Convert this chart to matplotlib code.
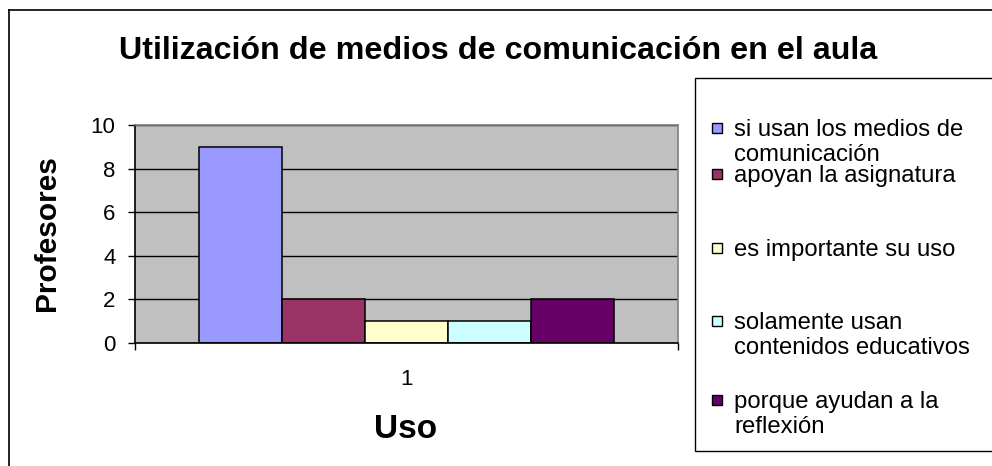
import matplotlib.pyplot as plt
from matplotlib.patches import Rectangle
from matplotlib.lines import Line2D

plt.rcParams['font.family'] = ['Liberation Sans', 'DejaVu Sans']

# datos
categorias = ['1']
series = ['si usan los medios de\ncomunicación',
          'apoyan la asignatura',
          'es importante su uso',
          'solamente usan\ncontenidos educativos',
          'porque ayudan a la\nreflexión']
valores = [9, 2, 1, 1, 2]
colores = ['#9999FF', '#993366', '#FFFFCC', '#CCFFFF', '#660066']

W, H = 992, 466
fig = plt.figure(figsize=(W / 100, H / 100), dpi=100)

def px(x, y):
    # pixel (desde arriba-izquierda) -> coords de figura
    return x / W, 1 - y / H

# borde exterior
fig.add_artist(Line2D([9 / W, 1.01], [1 - 10 / H, 1 - 10 / H], color='black', lw=1.2))
fig.add_artist(Line2D([9 / W, 9 / W], [1 - 10 / H, -0.01], color='black', lw=1.2))

# area de trazado
ax = fig.add_axes([135 / W, 1 - 343 / H, 543 / W, 218 / H])
ax.set_facecolor('#C0C0C0')
ax.set_axisbelow(True)

offsets = [-2, -1, 0, 1, 2]
for off, v, c, s in zip(offsets, valores, colores, series):
    ax.bar(off, v, width=1.0, color=c, edgecolor='black', linewidth=1.1, label=s)

ax.set_xlim(-3.265, 3.265)
ax.set_ylim(0, 10)
ax.set_yticks([0, 2, 4, 6, 8, 10])
ax.yaxis.grid(True, color='black', linewidth=1)
ax.tick_params(axis='y', direction='out', length=5, width=1, labelsize=16, pad=9)
ax.set_xticks([0])
ax.set_xticklabels(categorias)
ax.set_xticks([-3.265, 3.265], minor=True)
ax.tick_params(axis='x', which='major', length=0, labelsize=16, pad=19)
ax.tick_params(axis='x', which='minor', direction='out', length=5, width=1)

ax.spines['left'].set_color('black')
ax.spines['bottom'].set_color('black')
ax.spines['top'].set_color('#808080')
ax.spines['right'].set_color('#808080')
for sp in ax.spines.values():
    sp.set_linewidth(1.2)

# textos
fig.text(*px(498, 51), 'Utilización de medios de comunicación en el aula',
         ha='center', va='center', fontsize=23.2, fontweight='bold')
fig.text(*px(47, 233), 'Profesores', rotation=90, ha='center', va='center',
         fontsize=21.5, fontweight='bold')
fig.text(*px(406, 429), 'Uso', ha='center', va='center',
         fontsize=24, fontweight='bold')

# leyenda
fig.add_artist(Rectangle(px(695, 451), 400 / W, 373 / H, transform=fig.transFigure,
                         facecolor='white', edgecolor='black', lw=1))
tops = [119, 165, 239, 312, 391]
for s, c, t in zip(series, colores, tops):
    fig.add_artist(Rectangle(px(712, t + 14), 10 / W, 10 / H, transform=fig.transFigure,
                             facecolor=c, edgecolor='black', lw=1))
    fig.text(*px(734, t), s, ha='left', va='top', fontsize=17.2, linespacing=1.15)

fig.savefig('out.png', dpi=100)
